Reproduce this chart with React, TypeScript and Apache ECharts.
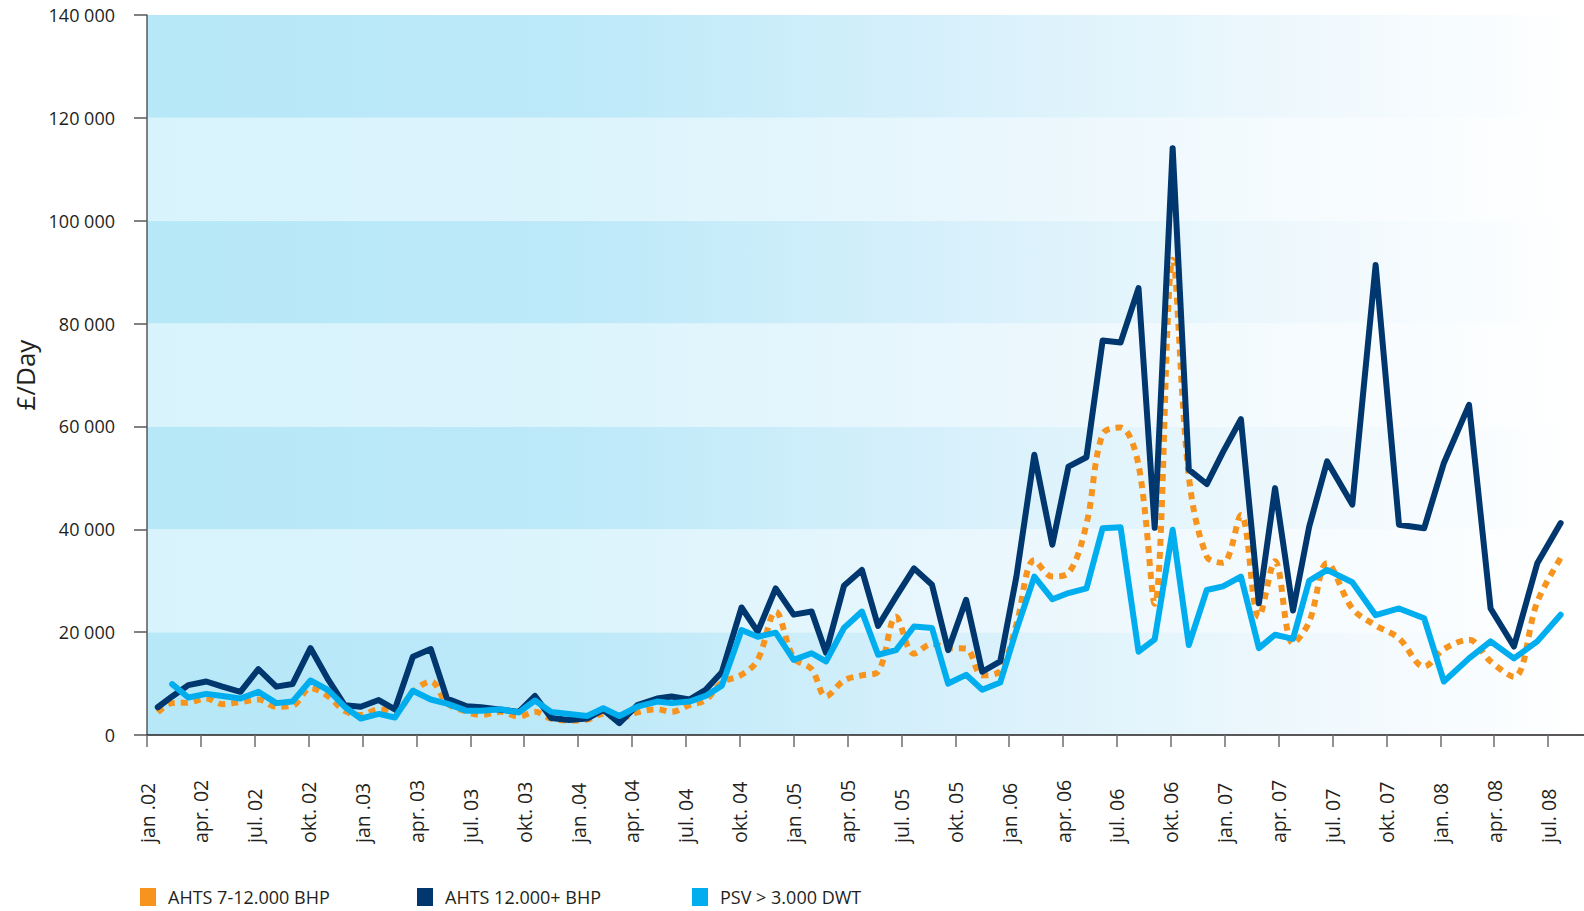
import React, { useEffect, useRef } from "react";
import * as echarts from "echarts";

// Time of each observation, in months counted from jan. 2002
const monthsSinceJan2002 = [
  0.6, 1.4, 2.3, 3.3, 4.2, 5.2, 6.2, 7.2, 8.1, 9.1,
  10.1, 11.0, 11.9, 12.9, 13.8, 14.8, 15.8, 16.7, 17.8, 18.6,
  19.7, 20.7, 21.6, 22.5, 23.5, 24.5, 25.4, 26.3, 27.3, 28.4,
  29.2, 30.2, 31.1, 32.0, 33.1, 34.0, 35.0, 36.0, 37.0, 37.8,
  38.8, 39.8, 40.7, 41.7, 42.7, 43.7, 44.6, 45.6, 46.5, 47.5,
  48.4, 49.4, 50.4, 51.3, 52.3, 53.2, 54.2, 55.2, 56.1, 57.1,
  58.0, 59.0, 59.9, 60.9, 61.9, 62.8, 63.8, 64.7, 65.7, 67.1,
  68.4, 69.7, 71.1, 72.2, 73.6, 74.8, 76.1, 77.4, 78.7,
];

const ahts7to12 = [
  4400, 6200, 6300, 7100, 6000, 6400, 6900, 5500, 5700, 9100,
  7500, 4700, 3900, 5000, 4400, 8400, 10400, 6200, 4500, 3900,
  4500, 3600, 4500, 3200, 2800, 3000, 4100, 3200, 4400, 5000,
  4500, 5800, 6800, 10200, 11700, 14600, 24000, 15000, 12800, 7500,
  10600, 11600, 12300, 23000, 15800, 17700, 16900, 16800, 11600, 12500,
  21500, 34000, 30800, 31500, 41000, 58500, 59800, 52500, 25500, 92400,
  50300, 34700, 33500, 42800, 23000, 33800, 17800, 22000, 33400, 24600,
  21300, 18800, 13300, 16700, 18500, 14300, 11300, 25900, 34400,
];

const ahts12plus = [
  5400, 7500, 9700, 10400, 9400, 8400, 12800, 9400, 9900, 16900,
  10700, 5800, 5500, 6800, 5000, 15200, 16700, 7100, 5600, 5400,
  4900, 4500, 7600, 3300, 2900, 3200, 4900, 2300, 5800, 7100,
  7500, 6900, 8800, 12200, 24800, 20100, 28500, 23400, 24000, 16000,
  29000, 32100, 21200, 26900, 32400, 29200, 16500, 26300, 12300, 14300,
  30800, 54500, 37000, 52200, 54000, 76700, 76300, 86900, 40300, 114100,
  51600, 48800, 55000, 61400, 25600, 48000, 24200, 40500, 53200, 44800,
  91400, 40900, 40200, 52900, 64200, 24600, 17200, 33400, 41200,
];

const psv3000 = [
  null, 9900, 7300, 8000, 7600, 7100, 8400, 6200, 6500, 10600,
  8700, 5500, 3200, 4100, 3400, 8600, 6900, 6100, 4700, 4700,
  5000, 4400, 6700, 4500, 4100, 3700, 5200, 3700, 5500, 6500,
  6200, 6500, 7600, 9600, 20400, 19100, 19900, 14600, 15900, 14300,
  20800, 24000, 15600, 16500, 21100, 20800, 10000, 11700, 8800, 10200,
  20400, 30800, 26400, 27600, 28500, 40200, 40400, 16200, 18600, 39900,
  17500, 28200, 28900, 30800, 16900, 19500, 18700, 30000, 32100, 29700,
  23300, 24600, 22700, 10400, 14900, 18200, 14900, 18200, 23400,
];

const seriesNames = ["AHTS 7-12.000 BHP", "AHTS 12.000+ BHP", "PSV > 3.000 DWT"];

// Quarter labels, one every 3 months starting jan. 2002
const xTickLabels = [
  "jan .02", "apr. 02", "jul. 02", "okt. 02",
  "jan .03", "apr. 03", "jul. 03", "okt. 03",
  "jan .04", "apr. 04", "jul. 04", "okt. 04",
  "jan .05", "apr. 05", "jul. 05", "okt. 05",
  "jan .06", "apr. 06", "jul. 06", "okt. 06",
  "jan. 07", "apr. 07", "jul. 07", "okt. 07",
  "jan. 08", "apr. 08", "jul. 08",
];

const yTicks = [0, 20000, 40000, 60000, 80000, 100000, 120000, 140000];

const FONT = "'Open Sans', 'Noto Sans', sans-serif";
const TEXT = "#231f20";

function pairs(vals: (number | null)[]) {
  return monthsSinceJan2002.map((t, i) => [t, vals[i]]);
}

function fmtThousands(v: number) {
  return String(v).replace(/\B(?=(\d{3})+(?!\d))/g, " ");
}

export default function App() {
  const ref = useRef<HTMLDivElement>(null);

  useEffect(() => {
    if (!ref.current) return;
    const chart = echarts.init(ref.current, undefined, { renderer: "svg" });

    const tickPositions = xTickLabels.map((_, i) => i * 3);

    const darkBand = new echarts.graphic.LinearGradient(0, 0, 1, 0, [
      { offset: 0, color: "#b6e8f8" },
      { offset: 0.3, color: "#bde9f9" },
      { offset: 0.55, color: "#d6f0fb" },
      { offset: 0.8, color: "#eef8fd" },
      { offset: 1, color: "#ffffff" },
    ]);
    const lightBand = new echarts.graphic.LinearGradient(0, 0, 1, 0, [
      { offset: 0, color: "#d8f3fc" },
      { offset: 0.3, color: "#dcf4fc" },
      { offset: 0.55, color: "#e8f6fd" },
      { offset: 0.8, color: "#f5fbfe" },
      { offset: 1, color: "#ffffff" },
    ]);

    const legendBase = {
      top: 883,
      orient: "horizontal" as const,
      itemWidth: 16,
      itemHeight: 18,
      icon: "rect",
      selectedMode: false,
      textStyle: {
        fontFamily: FONT,
        fontSize: 18,
        color: TEXT,
        padding: [0, 0, 0, 7],
      },
    };

    chart.setOption({
      animation: false,
      backgroundColor: "#ffffff",
      grid: { left: 147, right: 0, top: 15, bottom: 176, containLabel: false },
      legend: [
        { ...legendBase, left: 135, data: [seriesNames[0]] },
        { ...legendBase, left: 412, data: [seriesNames[1]] },
        { ...legendBase, left: 687, data: [seriesNames[2]] },
      ],
      xAxis: {
        type: "value",
        min: 0,
        max: 80,
        interval: 3,
        axisLine: { show: true, lineStyle: { color: TEXT, width: 1.5 } },
        axisTick: {
          show: true,
          customValues: tickPositions,
          length: 12,
          lineStyle: { color: "#6d6e71", width: 1.5 },
        },
        axisLabel: {
          customValues: tickPositions,
          rotate: 90,
          align: "left",
          verticalAlign: "middle",
          margin: 108,
          fontFamily: FONT,
          fontSize: 19.5,
          color: TEXT,
          formatter: (v: number) => xTickLabels[Math.round(v / 3)] ?? "",
        },
        splitLine: { show: false },
      },
      yAxis: {
        type: "value",
        min: yTicks[0],
        max: yTicks[yTicks.length - 1],
        interval: yTicks[1] - yTicks[0],
        name: "£/Day",
        nameLocation: "middle",
        nameRotate: 90,
        nameGap: 98,
        nameTextStyle: { fontFamily: FONT, fontSize: 26, color: TEXT },
        axisLine: { show: true, lineStyle: { color: "#58595b", width: 1.5 } },
        axisTick: { show: true, length: 13, lineStyle: { color: "#58595b", width: 1.5 } },
        axisLabel: {
          margin: 32,
          fontFamily: FONT,
          fontSize: 18,
          color: TEXT,
          formatter: (v: number) => fmtThousands(v),
        },
        splitLine: { show: false },
        splitArea: { show: true, areaStyle: { color: [darkBand, lightBand] } },
      },
      series: [
        {
          name: seriesNames[0],
          type: "line",
          data: pairs(ahts7to12),
          smooth: 0.35,
          symbol: "none",
          color: "#f7941d",
          lineStyle: { color: "#f7941d", width: 6, type: [7, 6], cap: "butt" },
          z: 2,
        },
        {
          name: seriesNames[1],
          type: "line",
          data: pairs(ahts12plus),
          symbol: "none",
          color: "#00376e",
          lineStyle: { color: "#00376e", width: 6, cap: "round", join: "round" },
          z: 3,
        },
        {
          name: seriesNames[2],
          type: "line",
          data: pairs(psv3000),
          symbol: "none",
          color: "#00aeef",
          lineStyle: { color: "#00aeef", width: 6, cap: "round", join: "round" },
          z: 4,
        },
      ],
    });

    return () => chart.dispose();
  }, []);

  return (
    <div
      ref={ref}
      style={{ position: "absolute", left: 0, top: 0, width: 1584, height: 911 }}
    />
  );
}
